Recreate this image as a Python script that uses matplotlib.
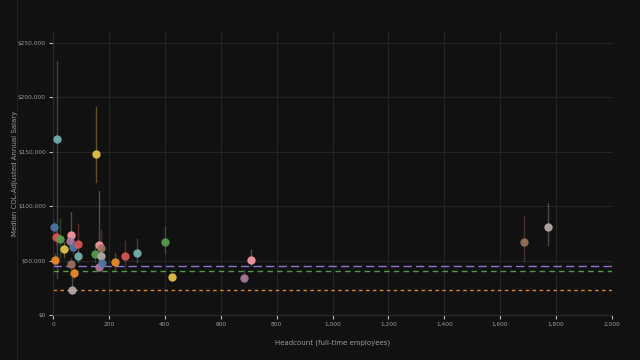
import matplotlib.pyplot as plt
from matplotlib.lines import Line2D
from matplotlib.ticker import FuncFormatter, MultipleLocator

# tableau 10 colours used for the companies
PAL = {
    "blue": "#4e79a7", "orange": "#f28e2b", "red": "#e15759", "teal": "#76b7b2",
    "green": "#59a14f", "yellow": "#edc948", "purple": "#b07aa1", "pink": "#ff9da7",
    "brown": "#9c755f", "gray": "#bab0ac",
}

headcount = [2, 15, 10, 24, 39, 8, 63, 60, 73, 88, 91, 64, 75, 68,
             155, 150, 165, 172, 173, 165, 176, 223, 259, 300, 401, 426,
             710, 682, 1685, 1770]
median = [80900, 161500, 71400, 69500, 60600, 50900, 73500, 68000, 62800, 65300,
          54500, 46600, 38600, 23300, 148000, 55800, 64300, 61600, 54500, 44100,
          47500, 48400, 54200, 57000, 66800, 35200, 50500, 33700, 66800, 81200]
low = [76000, 34000, 65000, 52000, 53000, 46000, 60000, 62000, 56000, 55000,
       49000, 42000, 34000, 20000, 122500, 49000, 48000, 55000, 50000, 40000,
       43000, 41000, 43000, 49000, 57000, 32000, 46000, 30000, 50000, 64000]
high = [86000, 233000, 78000, 88000, 67000, 56000, 94500, 74000, 70000, 83600,
        60000, 52000, 43000, 35000, 191500, 66000, 113700, 78000, 60000, 48000,
        52000, 57000, 68000, 69600, 81000, 38000, 60000, 41000, 91000, 103000]
colors = ["blue", "teal", "red", "green", "yellow", "orange", "pink", "purple",
          "blue", "red", "teal", "brown", "orange", "gray", "yellow", "green",
          "pink", "brown", "gray", "purple", "blue", "orange", "red", "teal",
          "green", "yellow", "pink", "purple", "brown", "gray"]

# reference lines
ref_values = [44700, 40400, 23000]
ref_colors = ["#8a74cc", "#4f9a48", "#d98a2a"]
ref_styles = [(0, (6, 3)), (0, (4, 3)), (0, (2.5, 2.5))]

BG = "#111111"
TXT = "#9a9a9a"

fig = plt.figure(figsize=(6.4, 3.6), dpi=100, facecolor=BG)
ax = fig.add_axes([53 / 640, 45 / 360, 559 / 640, 283 / 360], facecolor=BG)

for v, c, ls in zip(ref_values, ref_colors, ref_styles):
    ax.axhline(v, color=c, lw=1, ls=ls, zorder=2)

for x, m, lo, hi, c in zip(headcount, median, low, high, colors):
    ax.plot([x, x], [lo, hi], color=PAL[c], alpha=0.35, lw=1, zorder=3, clip_on=False)
    ax.plot(x, m, "o", color=PAL[c], ms=6, mec="none", alpha=0.9, zorder=4, clip_on=False)

ax.set_xlim(0, 2000)
ax.set_ylim(0, 260000)
ax.xaxis.set_major_locator(MultipleLocator(200))
ax.yaxis.set_major_locator(MultipleLocator(50000))
ax.xaxis.set_major_formatter(FuncFormatter(lambda v, p: f"{v:,.0f}"))
ax.yaxis.set_major_formatter(FuncFormatter(lambda v, p: f"${v:,.0f}"))
ax.grid(True, color="#242424", lw=0.8, zorder=0)
ax.set_axisbelow(True)
for s in ax.spines.values():
    s.set_visible(False)
ax.spines["left"].set_visible(True)
ax.spines["left"].set_color("#2a2a2a")
ax.spines["bottom"].set_visible(True)
ax.spines["bottom"].set_color("#2a2a2a")
ax.tick_params(colors="#bbbbbb", labelcolor=TXT, labelsize=4.2, length=3, width=0.8, pad=2)

ax.set_xlabel("Headcount (full-time employees)", color=TXT, fontsize=5)
ax.set_ylabel("Median COL-Adjusted Annual Salary", color=TXT, fontsize=5)
ax.xaxis.set_label_coords(0.5, -0.085)
ax.yaxis.set_label_coords(-0.062, 0.5)

fig.add_artist(Line2D([16.5 / 640, 16.5 / 640], [0, 1], color="#1f1f1f", lw=0.8))

fig.savefig("out.png", dpi=100, facecolor=BG)
